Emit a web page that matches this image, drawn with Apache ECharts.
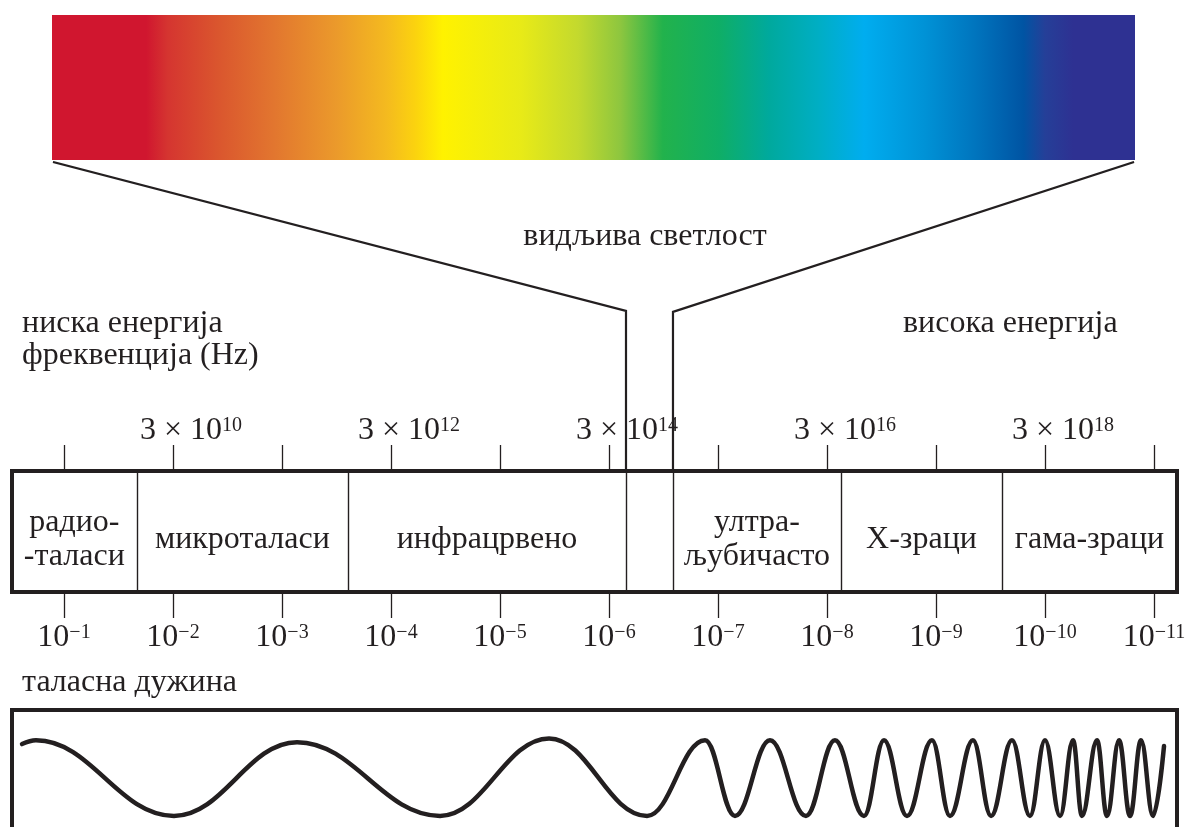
<!DOCTYPE html>
<html>
<head>
<meta charset="utf-8">
<title>Електромагнетни спектар</title>
<script src="https://cdn.jsdelivr.net/npm/echarts@6.0.0/dist/echarts.min.js"></script>
<style>
  html, body { margin: 0; padding: 0; background: #fff; }
  #chart { width: 1190px; height: 827px; }
</style>
</head>
<body>
<div id="chart"></div>
<script>
// x values are -log10(wavelength / m): 1 means 10^-1, 11 means 10^-11
var tickValues = [1, 2, 3, 4, 5, 6, 7, 8, 9, 10, 11];
var freqLabelValues = [2, 4, 6, 8, 10];          // 3 x 10^(8 + v) Hz
var bandEdges = [1.667, 3.606, 6.156, 6.587, 8.128, 9.606];
var bandNames = ['радио-\n-таласи', 'микроталаси', 'инфрацрвено', '', 'ултра-\nљубичасто', 'X-зраци', 'гама-зраци'];

// ends of the rainbow strip (same x units) and height of the kinks (0 = box top, 1 = strip bottom)
var spectrumEnds = [0.899, 10.817];
var kinkLevels = [0.518, 0.515];

// colour stops of the visible strip, left (red) to right (violet)
var spectrumStops = [0, 0.087, 0.107, 0.152, 0.205, 0.263, 0.309, 0.335, 0.361, 0.433, 0.486, 0.525,
  0.564, 0.616, 0.662, 0.708, 0.75, 0.806, 0.852, 0.897, 0.917, 0.943, 1];
var spectrumColors = ['#D0162F', '#D0162F', '#D53530', '#DA552E', '#E2762F', '#EB9A2B', '#F4BA1F', '#FBD20F',
  '#FFF200', '#E8EA17', '#C3D92E', '#8DC63F', '#22B24C', '#0FAE66', '#00A99D', '#00AEC4', '#00ADEF',
  '#0092D6', '#0075BE', '#0054A3', '#253F98', '#2E3192', '#2E3192'];

// crests and troughs of the wave
var waveX = [0.615, 0.743, 2.009, 3.138, 4.450, 5.450, 6.349, 6.881, 7.156, 7.477, 7.807, 8.073, 8.339,
  8.523, 8.734, 8.963, 9.128, 9.339, 9.505, 9.697, 9.862, 10.000, 10.138, 10.257, 10.339, 10.477,
  10.569, 10.679, 10.780, 10.881, 10.991, 11.092];
var waveY = [0.9, 1.0, -1.0, 0.95, -1.0, 1.05, -1.0, 1.0, -1.0, 1.0, -1.0, 1.0, -1.0,
  1.0, -1.0, 1.0, -1.0, 1.0, -1.0, 1.0, -1.0, 1.0, -1.0, 1.0, -1.0, 1.0,
  -1.0, 1.0, -1.0, 1.0, -1.0, 0.85];

var INK = '#231f20';
var FONT = 'Liberation Serif';
var FONT_SIZE = 32;
var axisMin = 0.523, axisMax = 11.211;

var chart = echarts.init(document.getElementById('chart'));

var gradient = new echarts.graphic.LinearGradient(0, 0, 1, 0, spectrumStops.map(function (s, i) {
  return { offset: s, color: spectrumColors[i] };
}));

// label centres sit midway between band edges
var allEdges = [axisMin].concat(bandEdges, [axisMax]);
var bandLabels = bandNames.map(function (name, i) {
  return { value: [(allEdges[i] + allEdges[i + 1]) / 2, 50], name: name };
});

var supStyle = { fontSize: 20, fontFamily: FONT, color: INK, verticalAlign: 'top', lineHeight: 20 };

function text(str, x, y, align) {
  return {
    type: 'text', x: x, y: y, silent: true,
    style: {
      text: str, fill: INK, font: FONT_SIZE + 'px "' + FONT + '"',
      textAlign: align || 'left', textVerticalAlign: 'middle'
    }
  };
}

var option = {
  animation: false,
  grid: [
    { left: 52, top: 15, width: 1083, height: 145, outerBoundsMode: 'none' },
    { left: 12, top: 162, width: 1165, height: 309, outerBoundsMode: 'none' },
    { left: 12, top: 471, width: 1165, height: 121, show: true, borderWidth: 4, borderColor: INK, outerBoundsMode: 'none' },
    // the wave box runs off the bottom of the page
    { left: 12, top: 710, width: 1165, height: 140, show: true, borderWidth: 4, borderColor: INK, outerBoundsMode: 'none' }
  ],
  xAxis: [
    { gridIndex: 0, type: 'category', data: ['видљиво'], show: false },
    { gridIndex: 1, type: 'value', min: axisMin, max: axisMax, show: false },
    {
      gridIndex: 2, type: 'value', position: 'top', min: axisMin, max: axisMax,
      axisLine: { show: false, onZero: false }, splitLine: { show: false },
      axisTick: { customValues: tickValues, length: 26, lineStyle: { color: INK, width: 1.3 } },
      axisLabel: {
        customValues: freqLabelValues, margin: 25, padding: [0, 0, 0, 36],
        fontFamily: FONT, fontSize: FONT_SIZE, color: INK, lineHeight: 30,
        formatter: function (v) { return '3 × 10{sup|' + (8 + v) + '}'; },
        rich: { sup: supStyle }
      }
    },
    {
      gridIndex: 2, type: 'value', position: 'bottom', min: axisMin, max: axisMax,
      axisLine: { show: false, onZero: false }, splitLine: { show: false },
      axisTick: { customValues: tickValues, length: 26, lineStyle: { color: INK, width: 1.3 } },
      axisLabel: {
        customValues: tickValues, margin: 31,
        fontFamily: FONT, fontSize: FONT_SIZE, color: INK, lineHeight: 30,
        formatter: function (v) { return '10{sup|−' + v + '}'; },
        rich: { sup: supStyle }
      }
    },
    { gridIndex: 3, type: 'value', min: axisMin, max: axisMax, show: false }
  ],
  yAxis: [
    { gridIndex: 0, type: 'value', min: 0, max: 1, show: false },
    { gridIndex: 1, type: 'value', min: 0, max: 1, show: false },
    { gridIndex: 2, type: 'value', min: 0, max: 100, show: false },
    { gridIndex: 3, type: 'value', min: -1.9, max: 1.8, show: false }
  ],
  series: [
    {
      // rainbow strip
      type: 'bar', xAxisIndex: 0, yAxisIndex: 0, data: [1], barWidth: '100%',
      silent: true, itemStyle: { color: gradient }
    },
    {
      // left guide from the strip down to the visible band
      type: 'line', xAxisIndex: 1, yAxisIndex: 1, symbol: 'none', silent: true,
      data: [[spectrumEnds[0], 1], [bandEdges[2], kinkLevels[0]], [bandEdges[2], 0]],
      lineStyle: { color: INK, width: 2.2, join: 'miter' }
    },
    {
      type: 'line', xAxisIndex: 1, yAxisIndex: 1, symbol: 'none', silent: true,
      data: [[spectrumEnds[1], 1], [bandEdges[3], kinkLevels[1]], [bandEdges[3], 0]],
      lineStyle: { color: INK, width: 2.2, join: 'miter' }
    },
    {
      // band names and dividers
      type: 'scatter', xAxisIndex: 3, yAxisIndex: 2, symbolSize: 0, silent: true,
      data: bandLabels,
      itemStyle: { color: 'transparent', opacity: 1 },
      label: {
        show: true, position: 'inside', offset: [0, 8], formatter: '{b}',
        fontFamily: FONT, fontSize: FONT_SIZE, color: INK, lineHeight: 34,
        textBorderWidth: 0, opacity: 1
      },
      markLine: {
        silent: true, symbol: ['none', 'none'], label: { show: false },
        lineStyle: { type: 'solid', color: INK, width: 1.4, opacity: 1 },
        data: bandEdges.map(function (v) { return { xAxis: v }; })
      }
    },
    {
      // wave getting shorter towards gamma rays
      type: 'line', xAxisIndex: 4, yAxisIndex: 3, symbol: 'none', silent: true,
      smooth: 0.4, smoothMonotone: 'x',
      data: waveX.map(function (x, i) { return [x, waveY[i]]; }),
      lineStyle: { color: INK, width: 4.5, cap: 'round' }
    }
  ],
  graphic: {
    elements: [
      text('видљива светлост', 645, 237, 'center'),
      text('ниска енергија', 22, 324),
      text('фреквенција (Hz)', 22, 356),
      text('висока енергија', 903, 324),
      text('таласна дужина', 22, 683)
    ]
  }
};

chart.setOption(option);
</script>
</body>
</html>
